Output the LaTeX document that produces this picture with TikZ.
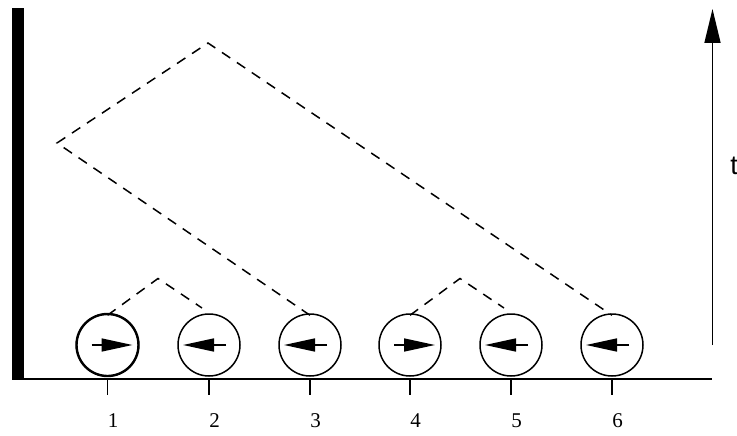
\documentclass[tikz,border=0pt]{standalone}
\usepackage{fontspec}
\setmainfont{Liberation Serif}
\newfontfamily\tfont{Liberation Sans}
\usetikzlibrary{arrows.meta}
\begin{document}
\begin{tikzpicture}[x=1pt,y=-1pt,
  circ/.style={draw,circle,minimum size=62pt,inner sep=0pt,line width=1.5pt},
  spin/.style={line width=1.6pt,-{Triangle[length=31pt,width=13pt]}},
  cone/.style={line width=1.5pt,dash pattern=on 10pt off 8pt},
  tickmark/.style={line width=1.6pt},
  lab/.style={font=\fontsize{21}{25}\selectfont,inner sep=0pt}]
\useasboundingbox (0,0) rectangle (737,436);
% wall and axis
\fill (12,8) rectangle (24.3,379.5);
\coordinate (axL) at (12,379);
\coordinate (axR) at (712,379);
\draw[line width=2pt] (axL) -- (axR);
% time arrow
\coordinate (tb) at (712.5,345);
\coordinate (tt) at (712.5,9);
\draw[line width=1.6pt,-{Triangle[length=34pt,width=16pt]}] (tb) -- (tt);
\node[font=\tfont\fontsize{27}{30}\selectfont,inner sep=0pt] (t) at (734,166) {t};
% particles
\foreach \i/\x in {1/107.5,2/209,3/310,4/410,5/511,6/612}{
  \node[circ] (c\i) at (\x,345) {};
  \coordinate (k\i) at (\x,379);
  \coordinate (kb\i) at (\x,395);
  \draw[tickmark] (k\i) -- (kb\i);
  \node[lab] (n\i) at (\x+5.5,421) {\i};
}
\node[circ,line width=2.4pt] at (c1) {};
% spins
\foreach \i in {1,4}{
  \draw[spin] ([xshift=-16pt]c\i.center) -- ([xshift=25pt]c\i.center);
}
\foreach \i in {2,3,5,6}{
  \draw[spin] ([xshift=17pt]c\i.center) -- ([xshift=-26pt]c\i.center);
}
% light-cone paths
\coordinate (a12) at (158,278.5);
\coordinate (e2) at (202,308);
\coordinate (a45) at (460,278.5);
\coordinate (e5) at (504,308);
\coordinate (pL) at (57,143);
\coordinate (pT) at (208,43);
\draw[cone] ([yshift=-2pt]c1.north) -- (a12) -- (e2);
\draw[cone] ([yshift=-2pt]c4.north) -- (a45) -- (e5);
\draw[cone] ([yshift=-2pt]c3.north) -- (pL) -- (pT) -- ([yshift=-2pt]c6.north);
\end{tikzpicture}
\end{document}
